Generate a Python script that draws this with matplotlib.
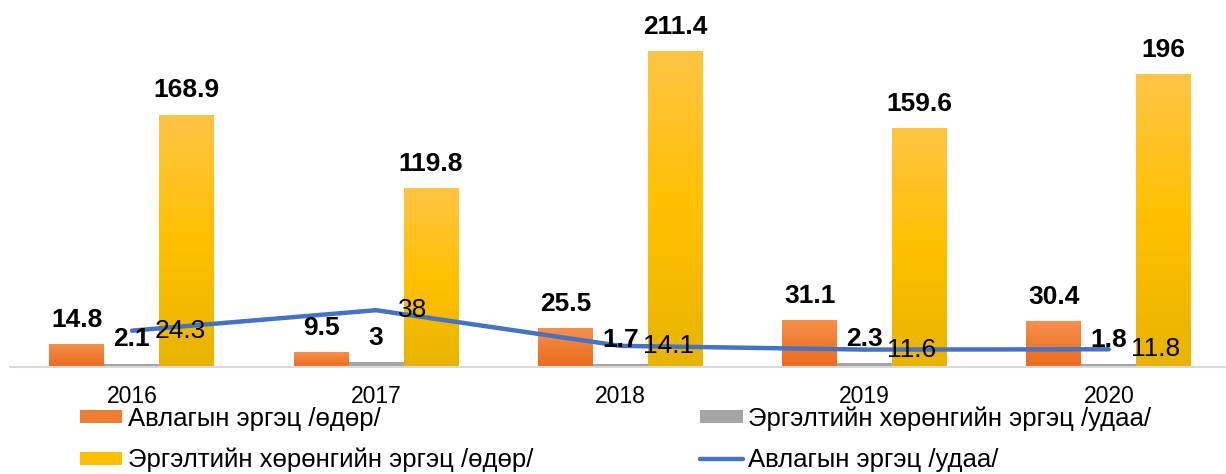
import matplotlib.pyplot as plt
import numpy as np
from matplotlib.colors import LinearSegmentedColormap

plt.rcParams['font.family'] = ['Liberation Sans', 'DejaVu Sans']

years = ['2016', '2017', '2018', '2019', '2020']
avlaga_odor = [14.8, 9.5, 25.5, 31.1, 30.4]          # Авлагын эргэц /өдөр/
ergelt_udaa = [2.1, 3, 1.7, 2.3, 1.8]                # Эргэлтийн хөрөнгийн эргэц /удаа/
ergelt_odor = [168.9, 119.8, 211.4, 159.6, 196]      # Эргэлтийн хөрөнгийн эргэц /өдөр/
avlaga_udaa = [24.3, 38, 14.1, 11.6, 11.8]           # Авлагын эргэц /удаа/

names = ['Авлагын эргэц /өдөр/', 'Эргэлтийн хөрөнгийн эргэц /удаа/',
         'Эргэлтийн хөрөнгийн эргэц /өдөр/', 'Авлагын эргэц /удаа/']

x = np.arange(len(years))
w = 0.225

orange_cm = LinearSegmentedColormap.from_list('o', ['#EC6C1E', '#F07C32', '#F4904E'])
yellow_cm = LinearSegmentedColormap.from_list('y', ['#E8B400', '#FFC000', '#FFC445'])
grad = np.linspace(0, 1, 256).reshape(-1, 1)

fig = plt.figure(figsize=(12.26, 4.74), dpi=100)
ax = fig.add_axes([0.008, 0.226, 1.0, 0.774])

b1 = ax.bar(x - w, avlaga_odor, w, color='#F07C32', zorder=2)
b2 = ax.bar(x, ergelt_udaa, w, color='#A5A5A5', zorder=2)
b3 = ax.bar(x + w, ergelt_odor, w, color='#FFC000', zorder=2)
ln, = ax.plot(x, avlaga_udaa, color='#4472C4', lw=3.2, solid_capstyle='round', zorder=3)

# gradient fill over the coloured bars
for bars, cm in ((b1, orange_cm), (b3, yellow_cm)):
    for r in bars:
        x0, h = r.get_x(), r.get_height()
        ax.imshow(grad, cmap=cm, origin='lower', aspect='auto', zorder=2.1,
                  extent=[x0, x0 + r.get_width(), 0, h])

for bars in (b1, b2, b3):
    for r in bars:
        ax.annotate(f'{r.get_height():g}', (r.get_x() + r.get_width() / 2, r.get_height()),
                    xytext=(0, 9), textcoords='offset points', ha='center', va='bottom',
                    fontsize=19, fontweight='bold', zorder=4)

for xi, v in zip(x, avlaga_udaa):
    ax.annotate(f'{v:g}', (xi, v), xytext=(16, 0), textcoords='offset points',
                ha='left', va='center', fontsize=19, zorder=4)

ax.set_xlim(-0.5, 4.52)
ax.set_ylim(0, 246)
ax.set_xticks(x)
ax.set_xticklabels(years, fontsize=16.5)
ax.tick_params(axis='x', length=0, pad=13)
ax.set_yticks([])
for s in ('left', 'right', 'top'):
    ax.spines[s].set_visible(False)
ax.spines['bottom'].set_color('#D9D9D9')
ax.spines['bottom'].set_linewidth(1.5)

fig.legend([b1, b3, b2, ln], [names[0], names[2], names[1], names[3]],
           ncol=2, loc='lower left', bbox_to_anchor=(0.046, -0.045),
           frameon=False, fontsize=18.5, handlelength=1.67, handleheight=0.4,
           handletextpad=0.2, columnspacing=6.5, labelspacing=0.65)

fig.savefig('out.png', dpi=100)
